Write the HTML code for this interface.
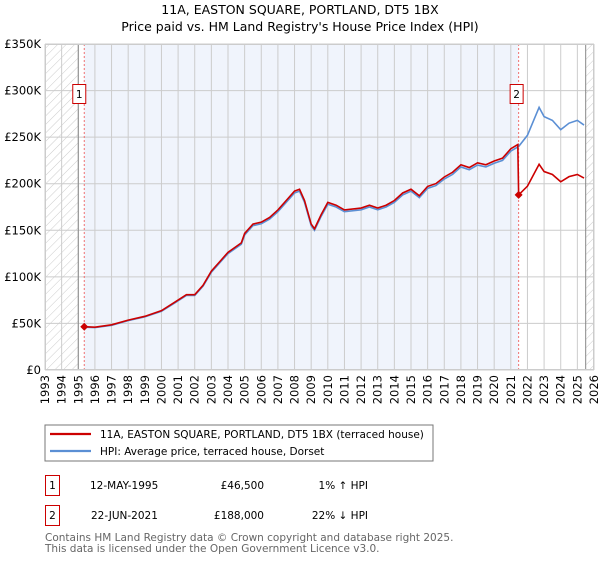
<!DOCTYPE html>
<html><head><meta charset="utf-8"><style>
body{margin:0;background:#fff;font-family:"DejaVu Sans","Liberation Sans",sans-serif;}
svg text{font-family:"DejaVu Sans","Liberation Sans",sans-serif;}
</style></head><body>
<svg id="c" width="600" height="560" xmlns="http://www.w3.org/2000/svg">
<defs><pattern id="h" width="6" height="6" patternUnits="userSpaceOnUse" patternTransform="rotate(45)"><line x1="0" y1="0" x2="0" y2="6" stroke="#ccc" stroke-width="1"/></pattern></defs>
<text x="300" y="14" text-anchor="middle" font-size="12.5" fill="#000">11A, EASTON SQUARE, PORTLAND, DT5 1BX</text>
<text x="300" y="31" text-anchor="middle" font-size="12.5" fill="#000">Price paid vs. HM Land Registry's House Price Index (HPI)</text>
<g id="plot"></g>
<rect x="45" y="425" width="388" height="36" fill="#fff" stroke="#777"/>
<line x1="50" y1="434" x2="91" y2="434" stroke="#cc0000" stroke-width="2.2"/>
<text x="100" y="438" font-size="10.5">11A, EASTON SQUARE, PORTLAND, DT5 1BX (terraced house)</text>
<line x1="50" y1="451" x2="91" y2="451" stroke="#5b8fd4" stroke-width="2.2"/>
<text x="100" y="455" font-size="10.5">HPI: Average price, terraced house, Dorset</text>
<g font-size="10.5">
<rect x="45.5" y="475.5" width="14" height="20" fill="#fff" stroke="#cc0000"/><text x="52.5" y="489" text-anchor="middle">1</text>
<text x="90" y="489">12-MAY-1995</text><text x="264" y="489" text-anchor="end">£46,500</text><text x="368" y="489" text-anchor="end">1% ↑ HPI</text>
<rect x="45.5" y="505.5" width="14" height="20" fill="#fff" stroke="#cc0000"/><text x="52.5" y="519" text-anchor="middle">2</text>
<text x="91" y="519">22-JUN-2021</text><text x="264" y="519" text-anchor="end">£188,000</text><text x="368" y="519" text-anchor="end">22% ↓ HPI</text>
</g>
<text x="45" y="541" font-size="10.5" fill="#666">Contains HM Land Registry data © Crown copyright and database right 2025.</text>
<text x="45" y="552" font-size="10.5" fill="#666">This data is licensed under the Open Government Licence v3.0.</text>
</svg>
<script>
const hpiYears=[1995.36,1996,1997,1998,1999,2000,2000.8,2001.5,2002,2002.5,2003,2003.5,2004,2004.8,2005,2005.5,2006,2006.5,2007,2007.5,2008,2008.3,2008.6,2009,2009.2,2009.6,2010,2010.5,2011,2012,2012.5,2013,2013.5,2014,2014.5,2015,2015.5,2016,2016.5,2017,2017.5,2018,2018.5,2019,2019.5,2020,2020.5,2021,2021.47,2022,2022.7,2023,2023.5,2024,2024.5,2025,2025.4];
const hpiValues=[46,45.5,48,53,57,63,72,80,80,90,105,115,125,135,145,155,157,162,170,180,190,192,180,155,150,165,178,175,170,172,175,172,175,180,188,192,185,195,198,205,210,218,215,220,218,222,225,235,240,252,282,272,268,258,265,268,263];
const saleDates=[1995.36,2021.47];
const salePrices=[46.5,188];
const saleLabels=["1","2"];
const yTicks=[0,50,100,150,200,250,300,350];
const yTickLabels=["£0","£50K","£100K","£150K","£200K","£250K","£300K","£350K"];
const xYears=[];for(let y=1993;y<=2026;y++)xYears.push(y);

const X0=45,X1=594,Y0=370,Y1=44;
const xs=y=>X0+(y-1993)*(X1-X0)/33;
const ys=v=>Y0-v*(Y0-Y1)/350;
const NS="http://www.w3.org/2000/svg";
const g=document.getElementById('plot');
function mk(t,a){const e=document.createElementNS(NS,t);for(const k in a)e.setAttribute(k,a[k]);g.appendChild(e);return e;}

let e=mk('rect',{x:xs(saleDates[0]),y:Y1,width:xs(saleDates[1])-xs(saleDates[0]),height:Y0-Y1,fill:'#f0f4fc'});


e=mk('rect',{x:X0,y:Y1,width:xs(1995)-X0,height:Y0-Y1,fill:'url(#h)'});


e=mk('rect',{x:xs(2025.5),y:Y1,width:X1-xs(2025.5),height:Y0-Y1,fill:'url(#h)'});



xYears.forEach(y=>{
  const l=mk('line',{x1:xs(y),x2:xs(y),y1:Y1,y2:Y0,stroke:'#ccc','stroke-width':1});
  
  
  const t=mk('text',{x:0,y:0,'font-size':11.5,'text-anchor':'end',transform:`translate(${xs(y)+4},${Y0+5}) rotate(-90)`});
  t.textContent=y;
  
  
});
yTicks.forEach((v,i)=>{
  const l=mk('line',{x1:X0,x2:X1,y1:ys(v),y2:ys(v),stroke:'#ccc','stroke-width':1});
  
  
  const t=mk('text',{x:X0-4,y:ys(v)+4,'font-size':11.5,'text-anchor':'end'});
  t.textContent=yTickLabels[i];
  
  
});
[1995,2025.5].forEach(y=>{const l=mk('line',{x1:xs(y),x2:xs(y),y1:Y1,y2:Y0,stroke:'#888','stroke-width':1});

});

saleDates.forEach(d=>{const l=mk('line',{x1:xs(d),x2:xs(d),y1:Y1,y2:Y0,stroke:'#f07070','stroke-dasharray':'2,2','stroke-width':1});

});

function hpiAt(d){for(let i=1;i<hpiYears.length;i++){if(d<=hpiYears[i]){const f=(d-hpiYears[i-1])/(hpiYears[i]-hpiYears[i-1]);return hpiValues[i-1]+f*(hpiValues[i]-hpiValues[i-1]);}}return hpiValues[hpiValues.length-1];}

const hp=mk('polyline',{points:hpiYears.map((y,i)=>xs(y)+','+ys(hpiValues[i])).join(' '),fill:'none',stroke:'#5b8fd4','stroke-width':1.6});



// property line: indexed from each sale
const pts=[];
const r1=salePrices[0]/hpiAt(saleDates[0]), r2=salePrices[1]/hpiAt(saleDates[1]);
hpiYears.forEach((y,i)=>{if(y<saleDates[1]-0.01)pts.push([y,hpiValues[i]*r1]);});
pts.push([saleDates[1]-0.05,hpiAt(saleDates[1]-0.05)*r1]);
pts.push([saleDates[1],salePrices[1]]);
hpiYears.forEach((y,i)=>{if(y>saleDates[1])pts.push([y,hpiValues[i]*r2]);});
const pl=mk('polyline',{points:pts.map(p=>xs(p[0])+','+ys(p[1])).join(' '),fill:'none',stroke:'#cc0000','stroke-width':1.6});



saleDates.forEach((d,i)=>{
  const cx=xs(d),cy=ys(salePrices[i]);
  const p=mk('polygon',{points:`${cx},${cy-4} ${cx+4},${cy} ${cx},${cy+4} ${cx-4},${cy}`,fill:'#cc0000'});
  
  
  const bx=i==0?cx-11:cx-10;
  const b=mk('rect',{x:xs(d)-(i==0?12:9)+0.5,y:84.5,width:13,height:19,fill:'#fff',stroke:'#cc0000'});
  
  
  const t=mk('text',{x:xs(d)-(i==0?12:9)+7,y:98,'font-size':10.5,'text-anchor':'middle'});
  t.textContent=saleLabels[i];
  
  
});
const br=mk('rect',{x:X0+0.5,y:Y1+0.5,width:X1-X0-1,height:Y0-Y1-1,fill:'none',stroke:'#ccc'});


</script>
</body></html>
